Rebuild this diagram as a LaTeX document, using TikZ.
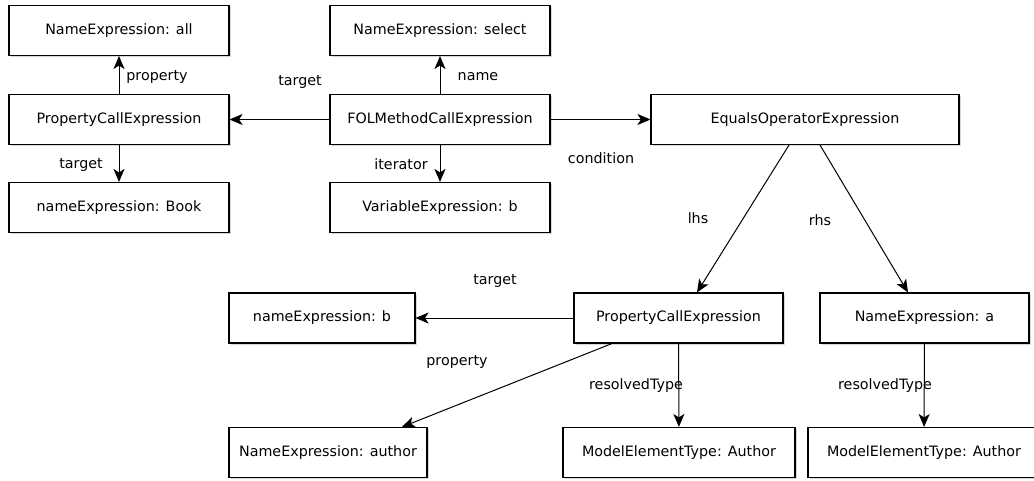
\documentclass[tikz,border=0pt]{standalone}
\usepackage{fontspec}
\setmainfont{DejaVu Sans}
\usetikzlibrary{arrows.meta,shadows}

\tikzset{
  expr/.style={draw, line width=1.1pt, fill=white, inner sep=0pt, minimum height=50pt,
    font=\fontsize{14.3}{16}\selectfont,
    drop shadow={shadow xshift=1.6pt, shadow yshift=-1.6pt, fill=black!30}},
  link/.style={-{Stealth[length=13pt,width=11pt,inset=3.5pt]}, line width=1pt},
  role/.style={font=\fontsize{14.3}{16}\selectfont, inner sep=0pt},
}

\begin{document}
\begin{tikzpicture}[x=1pt, y=-1pt]
  \useasboundingbox (0,0) rectangle (1034,481);

  % upper part: the select call
  \node[expr, minimum width=220pt] (allN)    at (119,30.5)  {NameExpression: all};
  \node[expr, minimum width=220pt] (pceTop)  at (119,119.5) {PropertyCallExpression};
  \node[expr, minimum width=220pt] (bookN)   at (119,207.5) {nameExpression: Book};
  \node[expr, minimum width=220pt] (selectN) at (440,30.5)  {NameExpression: select};
  \node[expr, minimum width=220pt] (folN)    at (440,119.5) {FOLMethodCallExpression};
  \node[expr, minimum width=220pt] (varN)    at (440,207.5) {VariableExpression: b};
  \node[expr, minimum width=308pt] (eqN)     at (805,119.5) {EqualsOperatorExpression};

  % lower part: the condition
  \node[expr, minimum width=186pt] (bN)      at (322,318)   {nameExpression: b};
  \node[expr, minimum width=209pt] (pceBot)  at (678.5,318) {PropertyCallExpression};
  \node[expr, minimum width=209pt] (aN)      at (924.5,318) {NameExpression: a};
  \node[expr, minimum width=198pt] (authorN) at (328,452.5) {NameExpression: author};
  \node[expr, minimum width=232pt] (metA)    at (679,452.5) {ModelElementType: Author};
  \node[expr, minimum width=232pt] (metB)    at (924,452.5) {ModelElementType: Author};

  \draw[link] (pceTop) -- (allN);
  \draw[link] (pceTop) -- (bookN);
  \draw[link] (folN) -- (pceTop);
  \draw[link] (folN) -- (selectN);
  \draw[link] (folN) -- (varN);
  \draw[link] (folN) -- (eqN);
  \draw[link] ([xshift=-16pt]eqN.south) -- ([xshift=18.5pt]pceBot.north);
  \draw[link] ([xshift=15pt]eqN.south) -- ([xshift=-16.5pt]aN.north);
  \draw[link] (pceBot) -- (bN);
  \draw[link] ([xshift=-66.5pt]pceBot.south) -- ([xshift=74pt]authorN.north);
  \draw[link] (pceBot) -- (metA);
  \draw[link] (aN) -- (metB);

  % role names
  \node[role] (lPropTop)  at (157,77)  {property};
  \node[role] (lTgtTop)   at (300,82)  {target};
  \node[role] (lTgtBook)  at (81,165)  {target};
  \node[role] (lName)     at (478,77)  {name};
  \node[role] (lIter)     at (401,164) {iterator};
  \node[role] (lCond)     at (601,158) {condition};
  \node[role] (lLhs)      at (698,218) {lhs};
  \node[role] (lRhs)      at (820,220) {rhs};
  \node[role] (lTgtB)     at (495,281) {target};
  \node[role] (lPropBot)  at (457,362) {property};
  \node[role] (lResA)     at (636,386) {resolvedType};
  \node[role] (lResB)     at (885,386) {resolvedType};
\end{tikzpicture}
\end{document}
